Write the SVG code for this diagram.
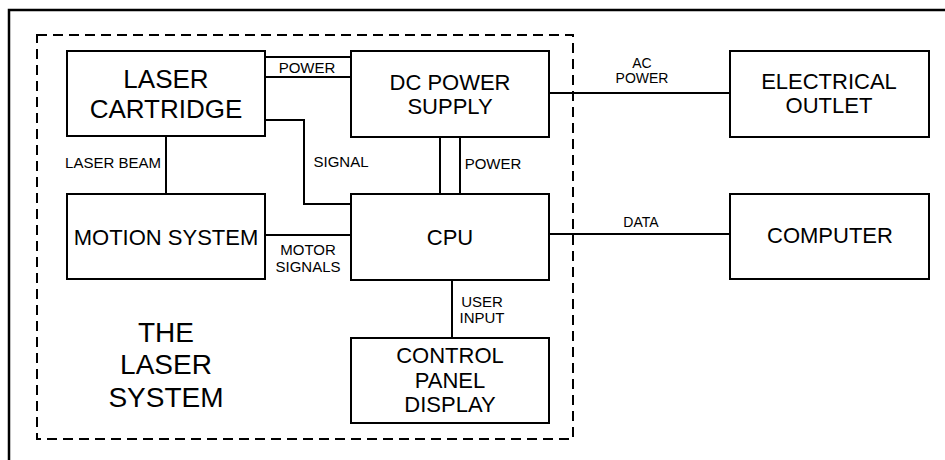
<svg xmlns="http://www.w3.org/2000/svg" width="945" height="460" viewBox="0 0 945 460">
<style>
.box{fill:#fff;stroke:#000;stroke-width:2}
.ln{fill:none;stroke:#000;stroke-width:2}
.t{font-family:"Liberation Sans",Arial,sans-serif;fill:#000;text-anchor:middle}
.b{font-size:22px}
.s{font-size:15px}
</style>
<rect width="945" height="460" fill="#fff"/>
<path d="M9,470 V10 H955" fill="none" stroke="#000" stroke-width="2.5"/>
<rect x="37" y="35" width="536" height="404" fill="none" stroke="#000" stroke-width="2" stroke-dasharray="10,6"/>
<g id="connectors">
<path class="ln" d="M265,57 H351 M265,77 H351"/>
<path class="ln" d="M265,120 H304 V204 H351"/>
<path class="ln" d="M440,137 V194 M460,137 V194"/>
<path class="ln" d="M166,136 V194"/>
<path class="ln" d="M265,235 H351"/>
<path class="ln" d="M452,280 V338"/>
<path class="ln" d="M549,93 H730"/>
<path class="ln" d="M549,234 H730"/>
<text class="t s" x="307" y="73">POWER</text>
<text class="t s" x="113" y="168">LASER BEAM</text>
<text class="t s" x="341" y="167">SIGNAL</text>
<text class="t s" x="493" y="169">POWER</text>
<text class="t s" x="308" y="255">MOTOR</text>
<text class="t s" x="308" y="272">SIGNALS</text>
<text class="t s" x="482" y="307">USER</text>
<text class="t s" x="482" y="323">INPUT</text>
<text class="t" style="font-size:14px" x="642" y="68">AC</text>
<text class="t" style="font-size:14px" x="642" y="83">POWER</text>
<text class="t" style="font-size:14px" x="641" y="227">DATA</text>
</g>
<g id="laser-cartridge">
<rect class="box" x="67" y="51" width="198" height="85"/>
<text class="t" style="font-size:26px" x="166" y="88">LASER</text>
<text class="t" style="font-size:26px" x="166" y="118">CARTRIDGE</text>
</g>
<g id="dc-power-supply">
<rect class="box" x="351" y="51" width="198" height="86"/>
<text class="t b" x="450" y="90">DC POWER</text>
<text class="t b" x="450" y="114">SUPPLY</text>
</g>
<g id="motion-system">
<rect class="box" x="67" y="194" width="198" height="85"/>
<text class="t b" x="166" y="245">MOTION SYSTEM</text>
</g>
<g id="cpu">
<rect class="box" x="351" y="194" width="198" height="86"/>
<text class="t b" x="450" y="245">CPU</text>
</g>
<g id="control-panel">
<rect class="box" x="351" y="338" width="198" height="85"/>
<text class="t b" x="450" y="363">CONTROL</text>
<text class="t b" x="450" y="388">PANEL</text>
<text class="t b" x="450" y="412">DISPLAY</text>
</g>
<g id="electrical-outlet">
<rect class="box" x="730" y="51" width="199" height="86"/>
<text class="t b" x="829" y="89">ELECTRICAL</text>
<text class="t b" x="829" y="113">OUTLET</text>
</g>
<g id="computer">
<rect class="box" x="730" y="194" width="199" height="85"/>
<text class="t b" x="830" y="243">COMPUTER</text>
</g>
<g id="the-laser-system">
<text class="t" style="font-size:28px" x="166" y="342">THE</text>
<text class="t" style="font-size:28px" x="166" y="374">LASER</text>
<text class="t" style="font-size:28px" x="166" y="407">SYSTEM</text>
</g>
</svg>
